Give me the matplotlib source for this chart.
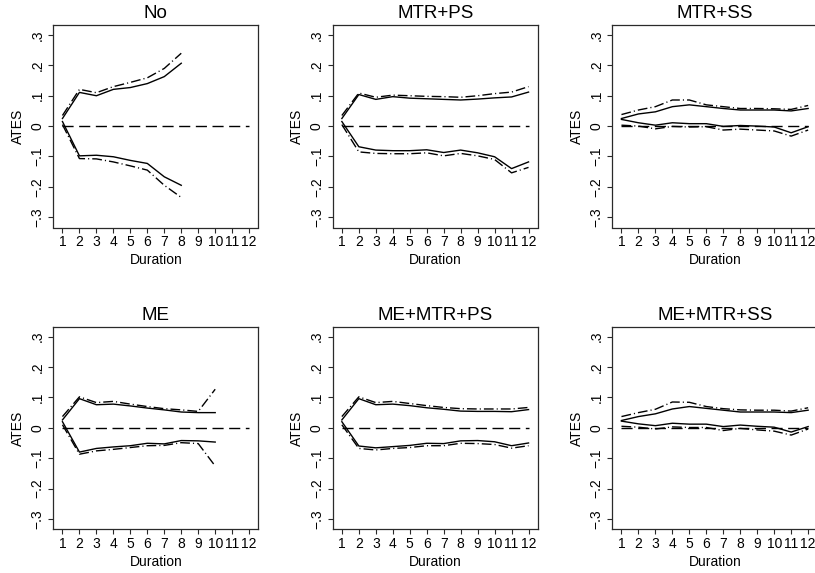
import numpy as np
import matplotlib
matplotlib.use("Agg")
import matplotlib.pyplot as plt

plt.rcParams['font.family'] = ['Liberation Sans', 'DejaVu Sans']

# Panel titles
titles = ["No", "MTR+PS", "MTR+SS", "ME", "ME+MTR+PS", "ME+MTR+SS"]

# Estimated values (duration 1..n)
no_up = [0.025, 0.111, 0.100, 0.121, 0.127, 0.140, 0.163, 0.207]
no_up_dd = [0.035, 0.121, 0.110, 0.130, 0.144, 0.159, 0.190, 0.240]
no_lo = [0.015, -0.098, -0.096, -0.101, -0.113, -0.123, -0.167, -0.195]
no_lo_dd = [0.005, -0.107, -0.108, -0.118, -0.131, -0.145, -0.195, -0.235]

mtrps_up = [0.025, 0.104, 0.088, 0.097, 0.092, 0.090, 0.088, 0.086, 0.089, 0.093, 0.096, 0.112]
mtrps_up_dd = [0.035, 0.109, 0.095, 0.102, 0.100, 0.098, 0.097, 0.095, 0.100, 0.107, 0.112, 0.130]
mtrps_lo = [0.015, -0.068, -0.079, -0.081, -0.081, -0.078, -0.087, -0.079, -0.088, -0.101, -0.140, -0.118]
mtrps_lo_dd = [0.005, -0.085, -0.090, -0.091, -0.091, -0.088, -0.098, -0.090, -0.098, -0.110, -0.154, -0.136]

mtrss_up = [0.025, 0.040, 0.047, 0.064, 0.070, 0.064, 0.058, 0.053, 0.053, 0.053, 0.050, 0.058]
mtrss_up_dd = [0.038, 0.053, 0.064, 0.086, 0.086, 0.070, 0.064, 0.058, 0.058, 0.057, 0.055, 0.068]
mtrss_lo = [0.022, 0.011, 0.003, 0.011, 0.008, 0.008, -0.001, 0.002, 0.000, -0.003, -0.022, -0.002]
mtrss_lo_dd = [0.003, 0.000, -0.009, -0.001, -0.003, -0.002, -0.013, -0.010, -0.013, -0.016, -0.033, -0.013]

me_up = [0.026, 0.096, 0.076, 0.078, 0.072, 0.065, 0.059, 0.052, 0.050, 0.050]
me_up_dd = [0.037, 0.102, 0.083, 0.087, 0.078, 0.070, 0.063, 0.059, 0.054, 0.127]
me_lo = [0.020, -0.080, -0.068, -0.063, -0.059, -0.051, -0.053, -0.042, -0.043, -0.047]
me_lo_dd = [0.010, -0.087, -0.076, -0.071, -0.065, -0.059, -0.058, -0.049, -0.052, -0.126]

memtrps_up = [0.026, 0.096, 0.076, 0.078, 0.073, 0.066, 0.061, 0.055, 0.054, 0.054, 0.053, 0.060]
memtrps_up_dd = [0.037, 0.102, 0.083, 0.087, 0.080, 0.073, 0.067, 0.063, 0.062, 0.062, 0.062, 0.067]
memtrps_lo = [0.020, -0.060, -0.066, -0.062, -0.058, -0.051, -0.052, -0.043, -0.042, -0.046, -0.059, -0.050]
memtrps_lo_dd = [0.010, -0.068, -0.073, -0.068, -0.065, -0.059, -0.059, -0.051, -0.052, -0.055, -0.067, -0.059]

memtrss_up = [0.024, 0.037, 0.046, 0.062, 0.070, 0.064, 0.058, 0.052, 0.052, 0.052, 0.050, 0.058]
memtrss_up_dd = [0.037, 0.050, 0.061, 0.085, 0.084, 0.070, 0.063, 0.059, 0.058, 0.058, 0.055, 0.066]
memtrss_lo = [0.022, 0.013, 0.007, 0.015, 0.012, 0.012, 0.004, 0.009, 0.005, 0.002, -0.014, 0.004]
memtrss_lo_dd = [0.005, 0.002, -0.004, 0.003, 0.001, 0.001, -0.009, -0.002, -0.007, -0.011, -0.024, -0.004]

panels = [
    (no_up, no_up_dd, no_lo, no_lo_dd),
    (mtrps_up, mtrps_up_dd, mtrps_lo, mtrps_lo_dd),
    (mtrss_up, mtrss_up_dd, mtrss_lo, mtrss_lo_dd),
    (me_up, me_up_dd, me_lo, me_lo_dd),
    (memtrps_up, memtrps_up_dd, memtrps_lo, memtrps_lo_dd),
    (memtrss_up, memtrss_up_dd, memtrss_lo, memtrss_lo_dd),
]

durations = np.arange(1, 13)
yticks = [-0.3, -0.2, -0.1, 0, 0.1, 0.2, 0.3]
ytick_labels = ["\u2212.3", "\u2212.2", "\u2212.1", "0", ".1", ".2", ".3"]

W, H = 815, 573
fig = plt.figure(figsize=(W / 100, H / 100), dpi=100, facecolor="white")

col_left = [53.3, 332.7, 612.3]
row_top = [25.0, 326.7]
box_w, box_h = 205.0, 202.5
frame_col = "#2a2a2a"

for i, (title, series) in enumerate(zip(titles, panels)):
    r, c = divmod(i, 3)
    left = col_left[c] / W
    bottom = 1 - (row_top[r] + box_h) / H
    ax = fig.add_axes([left, bottom, box_w / W, box_h / H])

    up, up_dd, lo, lo_dd = series
    x = durations[:len(up)]
    ax.plot(durations, np.zeros(len(durations)), color="black", lw=1.0,
            dashes=(8, 4))
    ax.plot(x, up, color="black", lw=1.0)
    ax.plot(x, lo, color="black", lw=1.0)
    ax.plot(x, up_dd, color="black", lw=1.0, dashes=(7, 2.2, 0.8, 2.2))
    ax.plot(x, lo_dd, color="black", lw=1.0, dashes=(7, 2.2, 0.8, 2.2))

    ax.set_xlim(0.46, 12.54)
    ax.set_ylim(-0.334, 0.333)
    ax.set_xticks(durations)
    ax.set_xticklabels([str(d) for d in durations])
    ax.set_yticks(yticks)
    ax.set_yticklabels(ytick_labels, rotation=90, va="center")
    ax.tick_params(axis="both", direction="out", length=3.3, width=0.8,
                   labelsize=10, colors=frame_col, labelcolor="black")
    ax.tick_params(axis="x", pad=2)
    ax.tick_params(axis="y", pad=3)
    for s in ax.spines.values():
        s.set_linewidth(0.9)
        s.set_color(frame_col)

    ax.set_title(title, fontsize=13.5, pad=5)
    ax.set_xlabel("Duration", fontsize=10, labelpad=3)
    ax.set_ylabel("ATES", fontsize=10, labelpad=4)

fig.savefig("out.png", dpi=100)
